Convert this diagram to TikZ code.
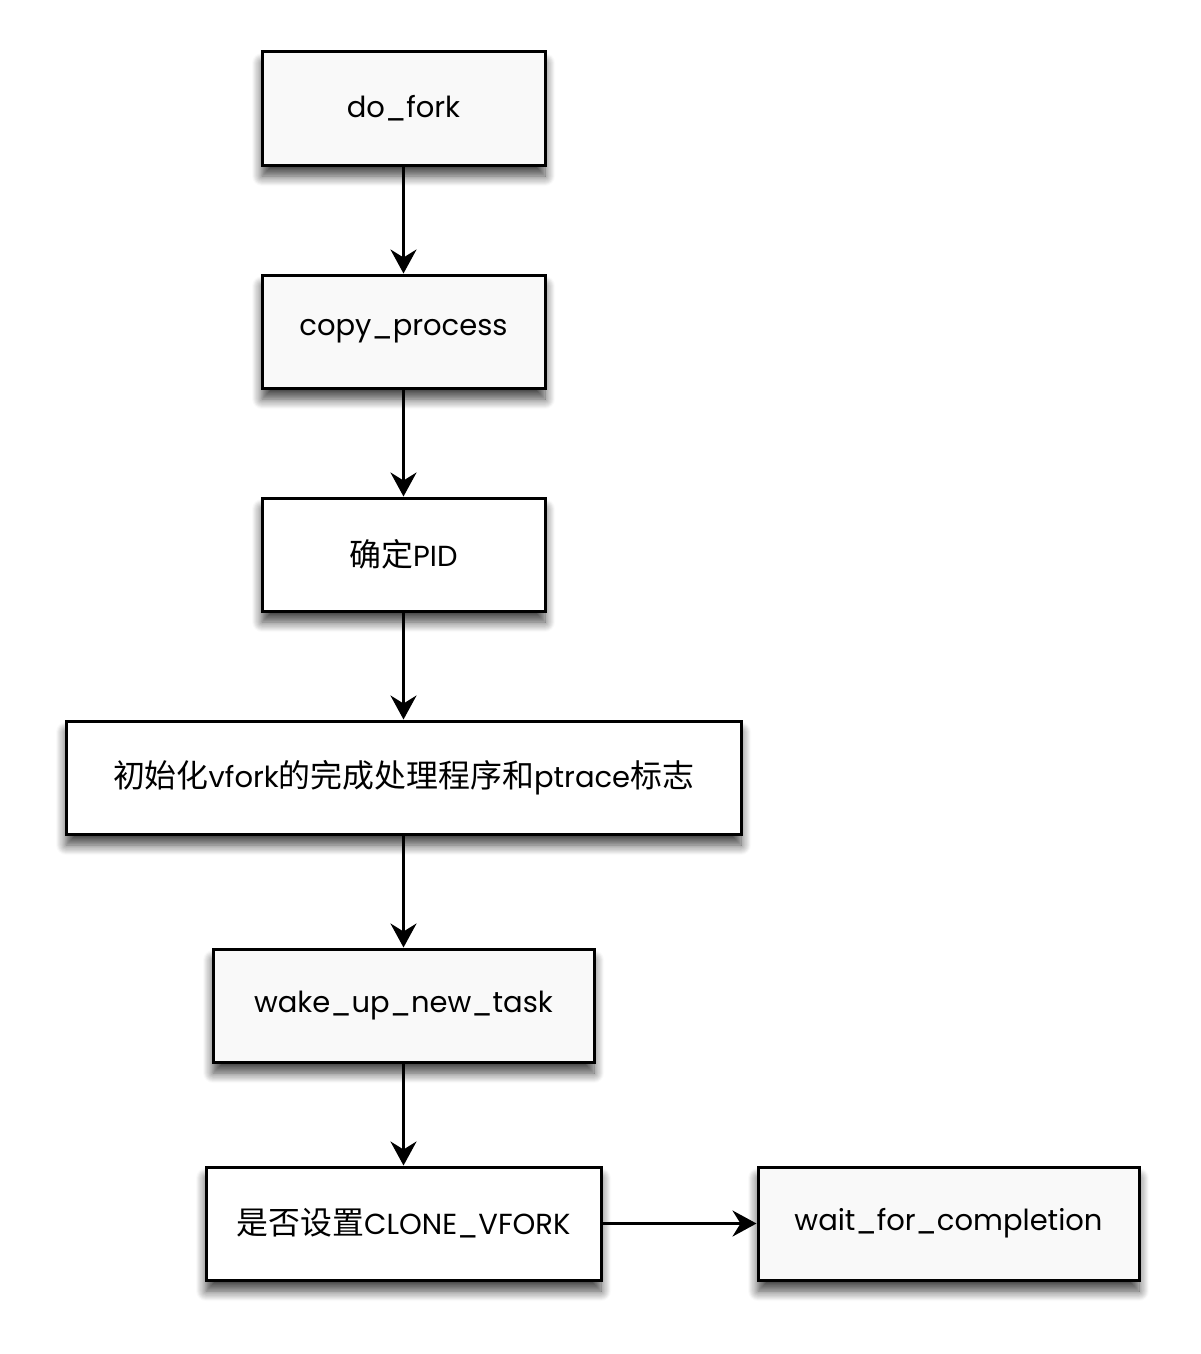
\documentclass[tikz,border=0pt]{standalone}
\usepackage{fontspec}
\setmainfont{Poppins}
\newfontfamily\cjk[Scale=1.1]{Noto Sans CJK SC}
\usetikzlibrary{arrows.meta,shadows.blur}
\tikzset{
  box/.style={draw=black, line width=1.5pt, fill=#1, minimum height=56.5pt,
    inner sep=0pt, font=\fontsize{14.5}{16}\selectfont,
    blur shadow={shadow xshift=0pt, shadow yshift=-5.5pt, shadow blur steps=10, shadow blur radius=5pt, shadow opacity=75}},
  box/.default={gray!5},
  arr/.style={line width=1.5pt, -{Stealth[length=12pt,width=13pt,inset=4pt]}}
}
\begin{document}
\begin{tikzpicture}[x=0.5pt,y=-0.5pt]
\useasboundingbox (0,0) rectangle (1200,1354);
\node[box, minimum width=141.5pt] (a) at (403.5,108.5) {do\_fork};
\node[box, minimum width=141.5pt] (b) at (403.5,331.5) {copy\_process};
\node[box=white, minimum width=141.5pt] (c) at (403.5,554.5) {{\cjk 确定}PID};
\node[box=white, minimum width=337.5pt] (d) at (403.5,777.5) {{\cjk 初始化}vfork{\cjk 的完成处理程序和}ptrace{\cjk 标志}};
\node[box, minimum width=190.5pt] (e) at (403.5,1005.5) {wake\_up\_new\_task};
\node[box=white, minimum width=197.5pt] (f) at (403.5,1223.5) {{\cjk 是否设置}CLONE\_VFORK};
\node[box, minimum width=190.5pt] (g) at (948.5,1223.5) {wait\_for\_completion};
\draw[arr] (a) -- (b);
\draw[arr] (b) -- (c);
\draw[arr] (c) -- (d);
\draw[arr] (d) -- (e);
\draw[arr] (e) -- (f);
\draw[arr] (f) -- (g);
\end{tikzpicture}
\end{document}
